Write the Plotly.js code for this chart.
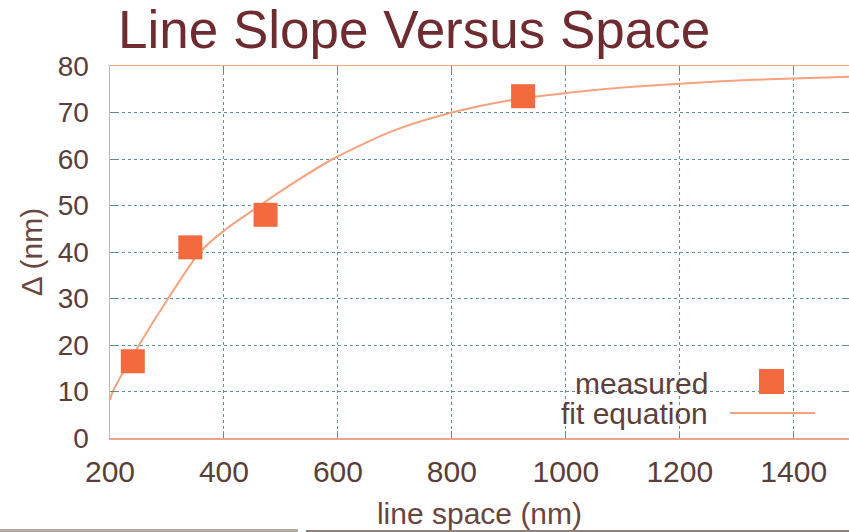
<!DOCTYPE html>
<html>
<head>
<meta charset="utf-8">
<script src="https://cdn.plot.ly/plotly-3.0.1.min.js"></script>
<style>html,body{margin:0;padding:0;background:#fff;}#chart{width:849px;height:532px;}</style>
</head>
<body>
<div id="chart"></div>
<script>
// measured points
const measuredX = [240, 341, 473, 925];
const measuredY = [16.5, 41, 48, 73.5];
// fit curve
const fitX = [200, 205, 251, 302, 358, 400, 463, 500, 591, 700, 800, 900, 1000, 1100, 1200, 1300, 1400, 1500];
const fitY = [8.2, 10, 20, 30, 40, 44.6, 50, 53.1, 60, 66.2, 70, 72.6, 74.2, 75.4, 76.2, 76.9, 77.3, 77.7];
const xTicks = [200, 400, 600, 800, 1000, 1200, 1400];
const yTicks = [0, 10, 20, 30, 40, 50, 60, 70, 80];
const seriesNames = ['measured', 'fit equation'];

const font = 'Liberation Sans, Arial, Helvetica, sans-serif';
const tickColor = '#5a3e3a';
const markColor = '#f26a3d';
const lineColor = '#f7a27e';

const traces = [
  {x: fitX, y: fitY, name: seriesNames[1], type: 'scatter', mode: 'lines',
   line: {color: lineColor, width: 2, shape: 'spline', smoothing: 0.8}, showlegend: false},
  {x: measuredX, y: measuredY, name: seriesNames[0], type: 'scatter', mode: 'markers',
   marker: {symbol: 'square', size: 24, color: markColor}, showlegend: false}
];

const axisCommon = {
  showline: true, linecolor: '#f0a587', linewidth: 1.5, mirror: 'ticks',
  ticks: 'inside', ticklen: 7, tickcolor: '#5b8c97', tickwidth: 1,
  showgrid: true, gridcolor: '#5f929c', griddash: 'dot', gridwidth: 1,
  zeroline: false, tickfont: {family: font, color: tickColor}
};

const layout = {
  width: 849, height: 532,
  margin: {l: 110, r: 0, t: 66, b: 94},
  paper_bgcolor: '#ffffff', plot_bgcolor: '#ffffff',
  title: {text: 'Line Slope Versus Space', x: (118-110)/739, xanchor: 'left', xref: 'paper',
          y: 0.91, yref: 'container', yanchor: 'bottom',
          font: {family: font, size: 53, color: '#6e2c30'}},
  xaxis: Object.assign({}, axisCommon, {
    range: [200, 1497], tickvals: xTicks, ticktext: xTicks.map(String),
    tickfont: {family: font, size: 30, color: tickColor}, ticklabelstandoff: 6,
    title: {text: 'line space (nm)', standoff: 16, font: {family: font, size: 30, color: '#6a4540'}}
  }),
  yaxis: Object.assign({}, axisCommon, {
    range: [0, 80], tickvals: yTicks, ticktext: yTicks.map(String),
    tickfont: {family: font, size: 28, color: tickColor}, ticklabelstandoff: 14,
    title: {text: '\u0394 (nm)', standoff: 6, font: {family: font, size: 30, color: '#6a4540'}}
  }),
  annotations: [
    {text: seriesNames[0], xref: 'paper', yref: 'paper', x: (710-110)/739, y: (438-383)/372,
     xanchor: 'right', yanchor: 'middle', showarrow: false,
     font: {family: font, size: 30, color: '#5e3f3a'}},
    {text: seriesNames[1], xref: 'paper', yref: 'paper', x: (710-110)/739, y: (438-413)/372,
     xanchor: 'right', yanchor: 'middle', showarrow: false,
     font: {family: font, size: 30, color: '#5e3f3a'}}
  ],
  shapes: [
    {type: 'rect', xref: 'paper', yref: 'paper', x0: (759-110)/739, x1: (784-110)/739,
     y0: (438-394)/372, y1: (438-369)/372, fillcolor: markColor, line: {width: 0}},
    {type: 'line', xref: 'paper', yref: 'paper', x0: (730-110)/739, x1: (815-110)/739,
     y0: (438-413)/372, y1: (438-413)/372, line: {color: lineColor, width: 2}},
    {type: 'rect', xref: 'paper', yref: 'paper', x0: -110/739, x1: (298-110)/739,
     y0: -91/372, y1: -94/372, fillcolor: '#b5aaa1', line: {width: 0}, layer: 'below'},
    {type: 'rect', xref: 'paper', yref: 'paper', x0: (306-110)/739, x1: (849-110)/739,
     y0: -92/372, y1: -94/372, fillcolor: '#8f8078', line: {width: 0}, layer: 'below'}
  ]
};

Plotly.newPlot('chart', traces, layout, {displayModeBar: false, staticPlot: true});
</script>
</body>
</html>
